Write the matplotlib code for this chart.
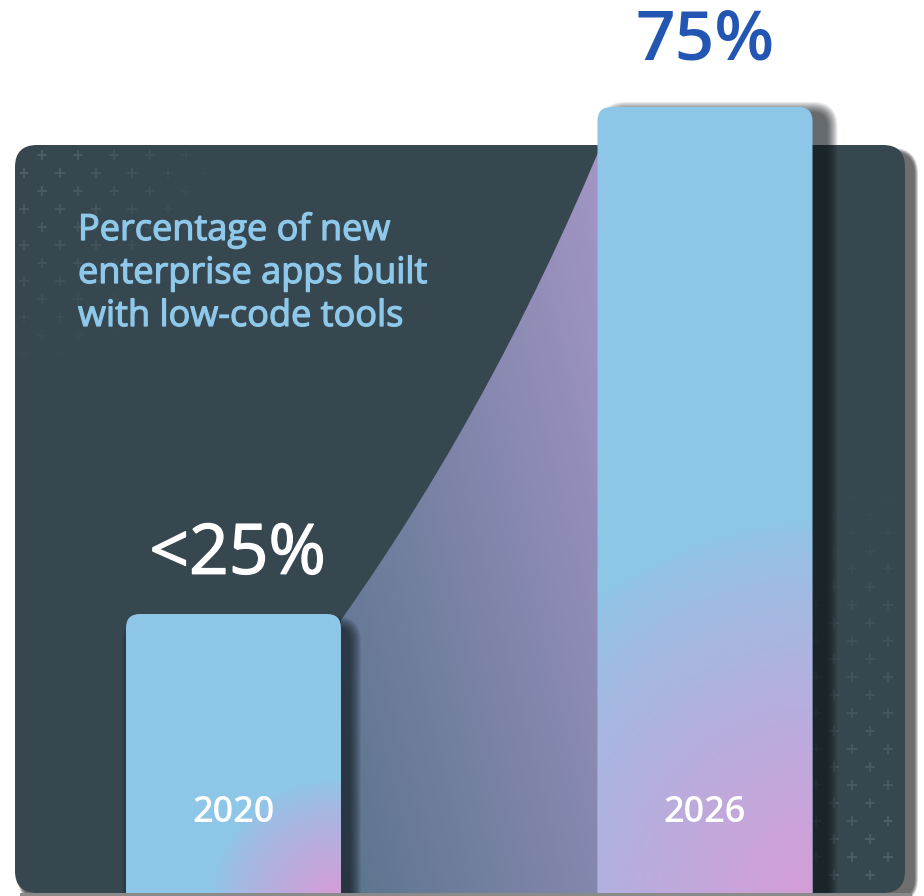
import numpy as np
import matplotlib
matplotlib.use('Agg')
import matplotlib.pyplot as plt
import matplotlib.transforms as mtransforms
import matplotlib.patheffects as pe
from matplotlib.patches import FancyBboxPatch, PathPatch, Rectangle
from matplotlib.path import Path
from matplotlib.colors import to_rgb

# data
years = ['2020', '2026']
values = [25, 75]
value_labels = ['<25%', '75%']
title_lines = ['Percentage of new', 'enterprise apps built', 'with low-code tools']

# colours
PANEL = '#37474f'
BLUE = '#8ec6e8'
PINK = '#d89bd6'
TITLE_C = '#8ec8ea'
BIG_BLUE = '#2356b2'
FONT = 'Open Sans'

W, H = 924, 896
fig = plt.figure(figsize=(W / 100, H / 100), dpi=100)
fig.patch.set_facecolor('white')
ax = fig.add_axes([0, 0, 1, 1])
ax.set_axis_off()
# one category step ~471 px, ~10.14 px per percent point
ax.set_xlim(-0.4952, 1.4645)
ax.set_ylim(-2.81, 85.55)

# pixel coordinates measured from the top-left corner
px = mtransforms.Affine2D().scale(0.01, -0.01).translate(0, H / 100) + fig.dpi_scale_trans
data2px = ax.transData + px.inverted()
px_y = mtransforms.blended_transform_factory(ax.transData, px)

x_pos = np.arange(len(years))
bar_w = 0.456
base = ax.get_ylim()[0] - 1


def soft_shadow(x, y, w, h, r, color, steps, spread, alpha, zorder):
    for i in range(steps):
        grow = spread * (1 - i / steps)
        p = FancyBboxPatch((x - grow, y - grow), w + 2 * grow, h + 2 * grow,
                           boxstyle=f'round,pad=0,rounding_size={r + grow}',
                           transform=px, facecolor=color, edgecolor='none',
                           alpha=alpha, zorder=zorder)
        ax.add_patch(p)


def bolder(color, lw):
    return [pe.withStroke(linewidth=lw, foreground=color)]


# panel shadow + panel
soft_shadow(22, 152, 892, 748, 22, '#000000', 6, 4, 0.13, 0)
panel = FancyBboxPatch((15, 145), 890, 748, boxstyle='round,pad=0,rounding_size=22',
                       transform=px, facecolor=PANEL, edgecolor='none', zorder=1)
ax.add_patch(panel)

# plus pattern, fading from two corners
pxs, pys, alphas = [], [], []
for k, yy in enumerate(np.arange(155, 893, 18)):
    start = 42 if k % 2 == 0 else 24
    for xx in np.arange(start, 905, 36):
        a1 = 1 - np.hypot((xx - 15) / 210, (yy - 145) / 230)
        a2 = 1 - np.hypot((905 - xx) / 250, (893 - yy) / 430)
        a = max(a1, a2, 0)
        if a > 0.02:
            pxs.append(xx)
            pys.append(yy)
            alphas.append(min(a * 1.2, 1))
plus_rgb = to_rgb('#4f5f69')
cols = [(*plus_rgb, a) for a in alphas]
sc = ax.scatter(pxs, pys, marker='+', s=60, linewidths=1.3, c=cols, transform=px, zorder=2)
sc.set_clip_path(panel)

# curve area connecting the bar tops
bar0_right = x_pos[0] + bar_w / 2
bar1_left = x_pos[1] - bar_w / 2
p0 = (bar0_right, values[0] - 0.6)
p1 = (bar0_right + 0.346, values[0] + 22.1)
p2 = (bar1_left + 0.047, values[1] + 0.7)
verts = [(bar0_right, base), p0, p1, p2, (p2[0], base), (bar0_right, base)]
codes = [Path.MOVETO, Path.LINETO, Path.CURVE3, Path.CURVE3, Path.LINETO, Path.CLOSEPOLY]
area = PathPatch(Path(verts, codes), facecolor='none', edgecolor='none', zorder=3)
ax.add_patch(area)

x0p, y0p = data2px.transform((bar0_right, base))
x1p = data2px.transform(p2)[0]
y1p = 145  # panel top
gx, gy = np.meshgrid(np.linspace(x0p, x1p, 200), np.linspace(y1p, 893, 300))
t = np.clip(0.6 * (gx - x0p) / (x1p - x0p) + 0.4 * (893 - gy) / 750, 0, 1)
c0 = np.array(to_rgb('#5b748d'))
c1 = np.array(to_rgb('#a697c8'))
img = c0 + t[..., None] * (c1 - c0)
im = ax.imshow(img, extent=(x0p, x1p, 893, y1p), transform=px, aspect='auto',
               interpolation='bilinear', zorder=3)
im.set_clip_path(area)

# bar shadows
b0 = data2px.transform((x_pos[0] - bar_w / 2, values[0]))
b1 = data2px.transform((x_pos[1] - bar_w / 2, values[1]))
bw_px = data2px.transform((bar_w, 0))[0] - data2px.transform((0, 0))[0]
soft_shadow(b0[0] + 8, b0[1] + 14, bw_px, 900 - b0[1], 14, '#10171b', 12, 12, 0.08, 4)
soft_shadow(b1[0] + 14, b1[1] + 6, bw_px, 900 - b1[1], 14, '#10171b', 12, 11, 0.08, 4)

# bars
aspect = (471.5) / (10.14)
for i in range(len(years)):
    bar = FancyBboxPatch((x_pos[i] - bar_w / 2, base), bar_w, values[i] - base,
                         boxstyle=f'round,pad=0,rounding_size={14 / 471.5}',
                         mutation_aspect=aspect, facecolor=BLUE, edgecolor='none', zorder=5)
    ax.add_patch(bar)
    # pink glow in the lower right corner
    lx, ty = data2px.transform((x_pos[i] - bar_w / 2, values[i]))
    rx = lx + bw_px
    gx, gy = np.meshgrid(np.linspace(lx, rx, 120), np.linspace(ty, 896, 300))
    if i == 0:
        cx, cy, R = rx - 5, 905, 125
    else:
        cx, cy, R = rx + 15, 905, 385
    wgt = np.clip(1 - np.hypot(gx - cx, gy - cy) / R, 0, 1) ** 0.8
    rgba = np.zeros(gx.shape + (4,))
    rgba[..., :3] = to_rgb(PINK)
    rgba[..., 3] = wgt
    gim = ax.imshow(rgba, extent=(lx, rx, 896, ty), transform=px, aspect='auto',
                    interpolation='bilinear', zorder=6)
    gim.set_clip_path(bar)

    ax.text(x_pos[i], 822, years[i], transform=px_y, ha='center', va='baseline',
            color='white', fontsize=26, fontweight='semibold', family=FONT, zorder=7)

# value labels above the bars
ax.annotate(value_labels[0], (x_pos[0], values[0]), xytext=(3, 29), textcoords='offset points',
            ha='center', va='baseline', color='white', fontsize=50,
            family=FONT, zorder=7, path_effects=bolder('white', 1.0))
ax.annotate(value_labels[1], (x_pos[1], values[1]), xytext=(0, 34), textcoords='offset points',
            ha='center', va='baseline', color=BIG_BLUE, fontsize=50, fontweight='semibold',
            family=FONT, zorder=7)

# title
for j, line in enumerate(title_lines):
    ax.text(78, 240 + 43 * j, line, transform=px, ha='left', va='baseline',
            color=TITLE_C, fontsize=26, family=FONT, zorder=7,
            path_effects=bolder(TITLE_C, 0.9))

# bottom shadow strip
ax.add_patch(Rectangle((20, 893), 892, 3, transform=px, facecolor='#8a8a8a',
                       edgecolor='none', zorder=8))

fig.savefig('out.png', dpi=100, facecolor='white')
